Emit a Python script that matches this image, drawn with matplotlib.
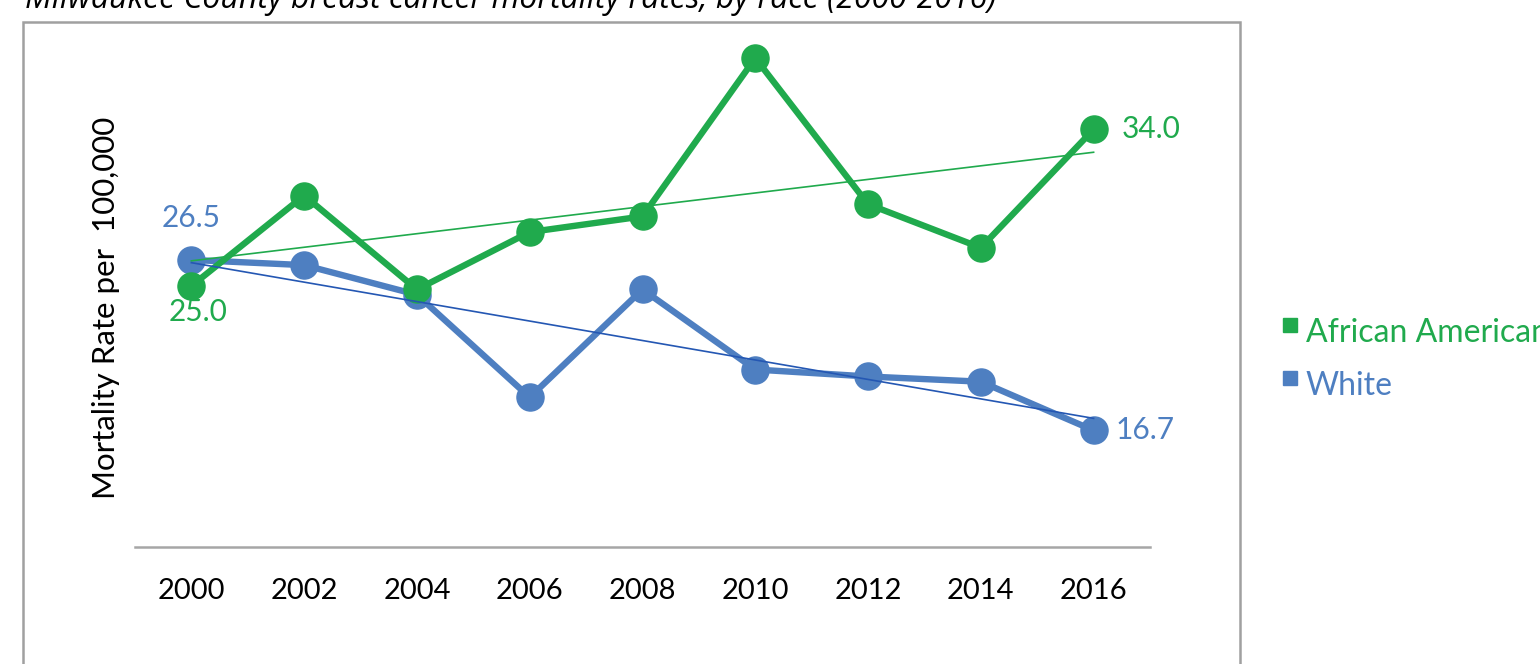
import numpy as np
import matplotlib
matplotlib.use("Agg")
import matplotlib.pyplot as plt
from matplotlib.patches import Rectangle

years = ["2000", "2002", "2004", "2006", "2008", "2010", "2012", "2014", "2016"]
african_american = [25.0, 30.2, 24.8, 28.1, 29.0, 38.1, 29.7, 27.2, 34.0]
white = [26.5, 26.2, 24.5, 18.6, 24.8, 20.2, 19.8, 19.5, 16.7]

GREEN = "#20AA4D"
BLUE = "#4E7FC1"
BLUE_TREND = "#2457B3"

plt.rcParams['font.family'] = ['Lato', 'DejaVu Sans']

fig = plt.figure(figsize=(15.4, 6.64), dpi=100)
ax = fig.add_axes([135 / 1540, 1 - 547 / 664, (1150 - 135) / 1540, (547 - 25) / 664])

x = np.arange(len(years))

# series
ax.plot(x, white, color=BLUE, lw=4.6, marker='o', markersize=19.5, zorder=3)
ax.plot(x, african_american, color=GREEN, lw=4.6, marker='o', markersize=19.5, zorder=4)

# linear trendlines like Excel
for vals, col in [(african_american, GREEN), (white, BLUE_TREND)]:
    k, b = np.polyfit(x, vals, 1)
    ax.plot(x[[0, -1]], k * x[[0, -1]] + b, color=col, lw=1.2, zorder=5)

# end-point labels
ax.annotate(f"{white[0]:.1f}", (0, white[0]), xytext=(0, 30), textcoords='offset points',
            ha='center', va='center', color=BLUE, fontsize=21.5)
ax.annotate(f"{african_american[0]:.1f}", (0, african_american[0]), xytext=(5, -19),
            textcoords='offset points', ha='center', va='center', color=GREEN, fontsize=21.5)
ax.annotate(f"{african_american[-1]:.1f}", (8, african_american[-1]), xytext=(20, 0),
            textcoords='offset points', ha='left', va='center', color=GREEN, fontsize=21.5)
ax.annotate(f"{white[-1]:.1f}", (8, white[-1]), xytext=(16, 0),
            textcoords='offset points', ha='left', va='center', color=BLUE, fontsize=21.5)

ax.set_xlim(-0.5, len(years) - 0.5)
ax.set_ylim(10, 40)
ax.set_xticks(x)
ax.set_xticklabels(years, fontsize=21)
ax.tick_params(axis='x', length=0, pad=22)
ax.set_yticks([])
for s in ['top', 'right', 'left']:
    ax.spines[s].set_visible(False)
ax.spines['bottom'].set_color('#A6A6A6')
ax.spines['bottom'].set_linewidth(1.8)

fig.text(106 / 1540, 1 - 308 / 664, "Mortality Rate per  100,000", rotation=90,
         ha='center', va='center', fontsize=22.5, color='black')

# title, clipped at top of figure
fig.text(25 / 1540, 1 - 8 / 664, "Milwaukee County breast cancer mortality rates, by race (2000-2016)",
         ha='left', va='baseline', fontsize=23, style='italic', color='black',
         family=['Open Sans', 'DejaVu Sans'])

# chart frame
fig.patches.append(Rectangle((23 / 1540, -0.1), (1240 - 23) / 1540, 1.1 - 22 / 664,
                             transform=fig.transFigure, fill=False, edgecolor='#A0A0A0', lw=1.8))

# legend outside the frame
fig.patches.append(Rectangle((1283 / 1540, 1 - 332 / 664), 14 / 1540, 14 / 664,
                             transform=fig.transFigure, color=GREEN))
fig.text(1306 / 1540, 1 - 333 / 664, "African American", ha='left', va='center',
         fontsize=23, color=GREEN)
fig.patches.append(Rectangle((1283 / 1540, 1 - 385 / 664), 14 / 1540, 14 / 664,
                             transform=fig.transFigure, color=BLUE))
fig.text(1306 / 1540, 1 - 386 / 664, "White", ha='left', va='center',
         fontsize=23, color=BLUE)

fig.savefig("out.png", dpi=100)
